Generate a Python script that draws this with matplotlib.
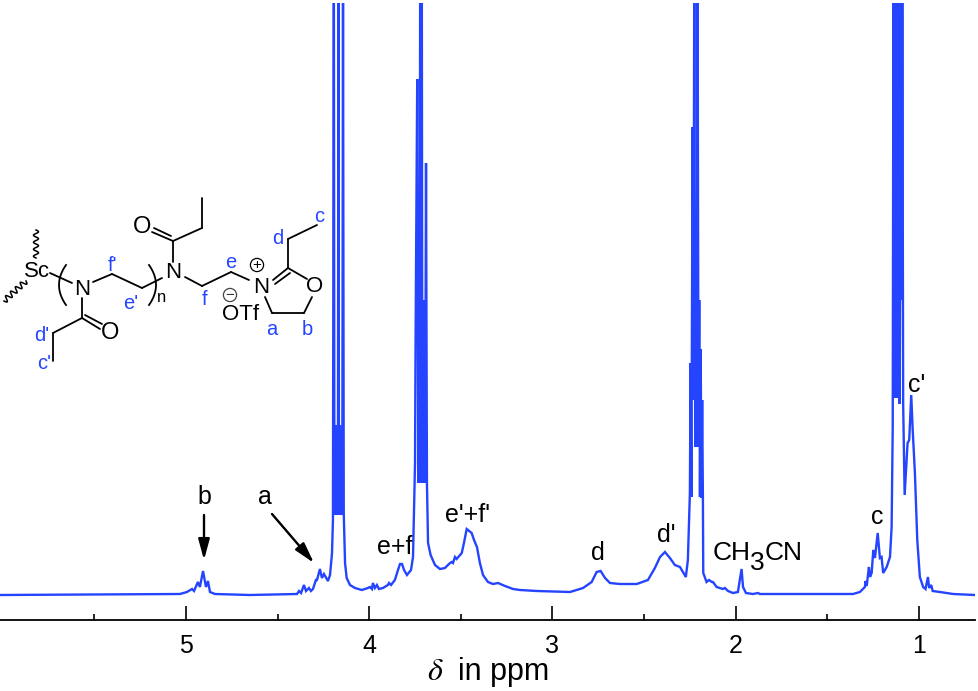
import numpy as np
import matplotlib
matplotlib.use('Agg')
import matplotlib.pyplot as plt

plt.rcParams['font.family'] = ['Liberation Sans', 'DejaVu Sans']

# spectrum (chemical shift in ppm, height over the axis)
ppm = [6.015, 5.033, 4.995, 4.967, 4.956, 4.935, 4.924, 4.907, 4.891, 4.880, 4.869, 4.842, 4.651, 4.394,
       4.383, 4.372, 4.356, 4.345, 4.329, 4.318, 4.307, 4.291, 4.285, 4.269, 4.258, 4.247, 4.225, 4.214,
       4.203, 4.198,
       4.193, 4.190, 4.185, 4.180, 4.175, 4.171, 4.168, 4.165, 4.160, 4.155, 4.151, 4.147, 4.143, 4.139,
       4.132, 4.123, 4.105, 4.078, 4.040, 4.007, 3.996, 3.985, 3.980, 3.969, 3.958, 3.947, 3.925, 3.898,
       3.892, 3.881, 3.860, 3.843, 3.832, 3.821, 3.810, 3.794, 3.772, 3.761, 3.756, 3.750,
       3.747, 3.738, 3.732, 3.729, 3.725, 3.722, 3.718, 3.713, 3.710, 3.708, 3.703, 3.699, 3.695, 3.690, 3.685,
       3.679, 3.665, 3.641, 3.614, 3.587, 3.559, 3.550, 3.543, 3.532, 3.523, 3.495, 3.483, 3.468, 3.441,
       3.428, 3.412, 3.396, 3.379, 3.352, 3.325, 3.297, 3.259, 3.215, 3.177, 3.085, 2.904, 2.833, 2.786,
       2.759, 2.737, 2.713, 2.686, 2.632, 2.540, 2.479, 2.441, 2.413, 2.386, 2.359, 2.332, 2.304, 2.272,
       2.261, 2.250,
       2.246, 2.242, 2.235, 2.231, 2.226, 2.221, 2.217, 2.213, 2.208, 2.203, 2.199, 2.195, 2.191, 2.187,
       2.183, 2.179,
       2.177, 2.159, 2.146, 2.130, 2.124, 2.104, 2.070, 2.059, 2.042, 2.015, 1.988, 1.968, 1.960, 1.944,
       1.906, 1.878, 1.868, 1.360, 1.322, 1.295, 1.291, 1.285, 1.273, 1.267, 1.258, 1.249, 1.240, 1.225,
       1.213, 1.204, 1.195, 1.176, 1.158, 1.149, 1.143,
       1.139, 1.134, 1.129, 1.125, 1.120, 1.115, 1.110, 1.105, 1.097, 1.094, 1.091, 1.086,
       1.078, 1.062, 1.053, 1.042, 1.034, 1.022, 1.009, 0.995, 0.977, 0.964, 0.951, 0.944, 0.933, 0.925,
       0.885, 0.814, 0.694]
intensity = [25, 26, 28, 31, 29, 38, 33, 49, 33, 39, 28, 26, 25, 26,
             29, 27, 35, 29, 32, 29, 31, 40, 40, 51, 42, 46, 39, 45,
             67, 100,
             650, 105, 195, 105, 190, 105, 650, 105, 195, 105, 190, 105, 650, 107,
             57, 42, 35, 32, 30, 32, 33, 31, 37, 32, 35, 31, 32, 35,
             37, 35, 40, 50, 56, 56, 50, 45, 50, 63, 107, 157,
             280, 541, 137, 320, 137, 650, 420, 650, 137, 320, 137, 320, 137, 457, 137,
             77, 65, 55, 51, 52, 57, 58, 57, 63, 61, 67, 77, 91, 87,
             80, 73, 57, 45, 38, 36, 37, 34, 31, 30, 29, 28, 32, 38,
             48, 49, 42, 37, 36, 36, 40, 52, 63, 68, 62, 55, 53, 43,
             60, 127,
             257, 123, 493, 220, 650, 173, 320, 173, 650, 173, 320, 123, 271, 122,
             220, 122,
             47, 38, 40, 38, 38, 33, 31, 32, 29, 27, 28, 51, 33, 27,
             26, 27, 26, 26, 28, 33, 39, 34, 53, 43, 47, 70, 62, 87,
             62, 63, 47, 53, 63, 93, 193,
             650, 222, 650, 222, 650, 222, 650, 216, 650, 320, 650, 216,
             125, 177, 180, 225, 190, 147, 80, 43, 33, 31, 43, 32, 35, 29,
             28, 26, 25]

major_ticks = [5, 4, 3, 2, 1]
minor_ticks = [5.5, 4.5, 3.5, 2.5, 1.5]

# peak labels, in pixels of the picture
peak_labels = [('b', 204, 497), ('a', 265, 497), ('e+f', 395, 547), ("e'+f'", 468, 515),
               ('d', 598, 553), ("d'", 666, 535), ('c', 877, 517), ("c'", 917, 385)]

# structure drawing, in pixels of the picture
bonds = [((50, 273), (72, 283)), ((93, 282), (112, 274)), ((112, 274), (142, 288)), ((142, 288), (162, 278)),
         ((82, 298), (82, 318)), ((82, 318), (53, 333)), ((53, 333), (53, 361)),
         ((82, 318), (100, 329)), ((85, 315), (102, 324)),
         ((173, 262), (173, 241)), ((173, 241), (202, 228)), ((202, 228), (202, 198)),
         ((173, 241), (152, 232)), ((171, 236), (154, 228)),
         ((185, 277), (202, 286)), ((202, 286), (231, 272)), ((231, 272), (249, 280)),
         ((273, 280), (288, 268)), ((275, 284), (290, 273)),
         ((288, 268), (288, 239)), ((288, 239), (317, 225)), ((288, 268), (307, 279)),
         ((312, 297), (304, 313)), ((304, 313), (272, 313)), ((272, 313), (265, 297))]
atoms = [('Sc', 37, 271, 16), ('N', 82, 289, 16), ('O', 110, 333, 17), ('N', 173, 272, 16), ('O', 142, 227, 17),
         ('N', 261, 287, 16), ('O', 315, 286, 16), ('OTf', 241, 314, 16), ('n', 162, 297, 12)]
blue_labels = [("f'", 113, 265), ("e'", 131, 303), ('f', 205, 299), ('e', 231, 262), ('a', 272, 329),
               ('b', 307, 329), ('c', 319, 216), ('d', 278, 238), ("d'", 42, 335), ("c'", 44, 363)]

blue = '#2444ff'

fig = plt.figure(figsize=(9.79, 6.91), dpi=100)
ax = fig.add_axes([0, 71 / 691, 975 / 979, 617 / 691])
ax.plot(ppm, intensity, color=blue, lw=1.7, solid_joinstyle='miter')
ax.set_xlim(6.015, 0.694)
ax.set_ylim(0, 617)
for s in ['top', 'left', 'right']:
    ax.spines[s].set_visible(False)
ax.spines['bottom'].set_linewidth(1.3)
ax.set_yticks([])
ax.set_xticks(major_ticks)
ax.set_xticks(minor_ticks, minor=True)
ax.tick_params(axis='x', which='major', direction='in', length=10, width=1.2, labelsize=18, pad=10)
ax.tick_params(axis='x', which='minor', direction='in', length=4.5, width=1.2)
ax.patch.set_alpha(0)

# overlay in picture pixels for the labels and the structure
ov = fig.add_axes([0, 0, 1, 1])
ov.set_xlim(0, 979)
ov.set_ylim(691, 0)
ov.axis('off')
ov.patch.set_alpha(0)

for txt, x, y in peak_labels:
    ov.text(x, y, txt, fontsize=18, ha='center', va='center')
ov.text(713, 553, 'CH', fontsize=19, ha='left', va='center')
ov.text(750, 563, '3', fontsize=19, ha='left', va='center')
ov.text(765, 553, 'CN', fontsize=19, ha='left', va='center')

# axis title
ov.text(427, 672, r'$\delta$', fontsize=23, ha='left', va='center', family='DejaVu Serif', style='italic',
        math_fontfamily='stix')
ov.text(458, 672, 'in ppm', fontsize=22, ha='left', va='center')

# arrows
ov.annotate('', xy=(204, 560), xytext=(204, 515),
            arrowprops=dict(arrowstyle='-|>,head_length=1.25,head_width=0.34', color='black', lw=1.7,
                            shrinkA=0, shrinkB=0))
ov.annotate('', xy=(314, 563), xytext=(272, 514),
            arrowprops=dict(arrowstyle='-|>,head_length=1.25,head_width=0.34', color='black', lw=1.7,
                            shrinkA=0, shrinkB=0))

# structure
for (x0, y0), (x1, y1) in bonds:
    ov.plot([x0, x1], [y0, y1], color='black', lw=1.3, solid_capstyle='round')

t = np.linspace(0, 1, 120)
ov.plot(36 + 2.5 * np.sin(t * 2 * np.pi * 4), 230 + 28 * t, color='black', lw=1.1)
dx, dy = 22, -20
ov.plot(4 + dx * t + 2 * np.sin(t * 2 * np.pi * 4.5), 301 + dy * t + 2 * np.sin(t * 2 * np.pi * 4.5),
        color='black', lw=1.1)

# polymer brackets
s = np.linspace(-1, 1, 30)
ov.plot(66 - 7 * (1 - s ** 2), 285 + 20 * s, color='black', lw=1.3)
ov.plot(149 + 7 * (1 - s ** 2), 285 + 20 * s, color='black', lw=1.3)

for txt, x, y, size in atoms:
    ov.text(x, y, txt, fontsize=size, ha='center', va='center')
for txt, x, y in blue_labels:
    ov.text(x, y, txt, fontsize=14.5, color=blue, ha='center', va='center')

# charges
ov.scatter([257, 230], [265, 295], s=90, facecolors='none', edgecolors=['black', '#444444'], linewidths=0.9)
ov.text(257, 264.5, '+', fontsize=11, ha='center', va='center')
ov.text(230, 294.5, '\u2212', fontsize=11, ha='center', va='center', color='#333333')

fig.savefig('out.png', dpi=100)
